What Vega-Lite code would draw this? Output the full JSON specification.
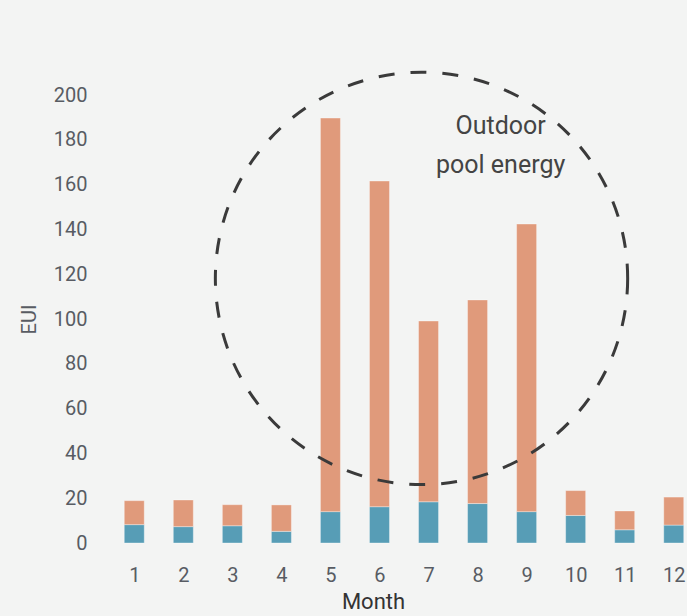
{
  "$schema": "https://vega.github.io/schema/vega-lite/v6.json",
  "width": 564,
  "height": 448,
  "autosize": "none",
  "padding": {"left": 122, "top": 95, "right": 1, "bottom": 73},
  "background": "#f3f4f3",
  "config": {
    "view": {"stroke": null},
    "font": "Roboto",
    "axis": {"grid": false, "domain": false, "ticks": false, "tickSize": 0, "labelFont": "Roboto", "titleFont": "Roboto", "titleFontWeight": "normal"}
  },
  "datasets": {
    "energy": [
      {"month": 1, "series": "Base", "eui": 8.2},
      {"month": 1, "series": "Pool", "eui": 10.7},
      {"month": 2, "series": "Base", "eui": 7.3},
      {"month": 2, "series": "Pool", "eui": 11.9},
      {"month": 3, "series": "Base", "eui": 7.7},
      {"month": 3, "series": "Pool", "eui": 9.4},
      {"month": 4, "series": "Base", "eui": 5.2},
      {"month": 4, "series": "Pool", "eui": 11.8},
      {"month": 5, "series": "Base", "eui": 14.0},
      {"month": 5, "series": "Pool", "eui": 175.7},
      {"month": 6, "series": "Base", "eui": 16.2},
      {"month": 6, "series": "Pool", "eui": 145.4},
      {"month": 7, "series": "Base", "eui": 18.4},
      {"month": 7, "series": "Pool", "eui": 80.7},
      {"month": 8, "series": "Base", "eui": 17.6},
      {"month": 8, "series": "Pool", "eui": 90.9},
      {"month": 9, "series": "Base", "eui": 14.0},
      {"month": 9, "series": "Pool", "eui": 128.4},
      {"month": 10, "series": "Base", "eui": 12.3},
      {"month": 10, "series": "Pool", "eui": 11.1},
      {"month": 11, "series": "Base", "eui": 5.9},
      {"month": 11, "series": "Pool", "eui": 8.4},
      {"month": 12, "series": "Base", "eui": 8.0},
      {"month": 12, "series": "Pool", "eui": 12.5}
    ],
    "circle": [{"cx": 6.857, "cy": 118.1}],
    "note": [
      {"tx": 8.47, "ty": 182.5, "label": "Outdoor"},
      {"tx": 8.47, "ty": 165.2, "label": "pool energy"}
    ]
  },
  "layer": [
    {
      "data": {"name": "energy"},
      "mark": {"type": "bar", "size": 20, "stroke": "white", "strokeWidth": 1, "strokeOpacity": 0.35},
      "encoding": {
        "x": {
          "field": "month", "type": "quantitative",
          "scale": {"domain": [0.75, 12.25], "nice": false, "zero": false, "padding": 0},
          "axis": {"values": [1,2,3,4,5,6,7,8,9,10,11,12], "format": "d", "labelFontSize": 20, "labelColor": "#585c63", "labelPadding": 22, "title": "Month", "titleFontSize": 22, "titleColor": "#333333", "titlePadding": 6, "titleX": 251}
        },
        "y": {
          "field": "eui", "type": "quantitative", "stack": "zero",
          "scale": {"domain": [0, 200], "nice": false},
          "axis": {"values": [0,20,40,60,80,100,120,140,160,180,200], "labelFontSize": 20, "labelColor": "#585c63", "labelPadding": 35, "title": "EUI", "titleFontSize": 20, "titleColor": "#585c63", "titlePadding": 14}
        },
        "color": {
          "field": "series", "type": "nominal",
          "scale": {"domain": ["Base", "Pool"], "range": ["#579db6", "#e09a7b"]},
          "legend": null
        },
        "order": {"field": "series", "sort": "ascending"}
      }
    },
    {
      "data": {"name": "circle"},
      "mark": {"type": "point", "shape": "circle", "filled": false, "size": 170000, "stroke": "#3a3a3a", "strokeWidth": 3, "strokeDash": [16, 16], "opacity": 1},
      "encoding": {
        "x": {"field": "cx", "type": "quantitative"},
        "y": {"field": "cy", "type": "quantitative"}
      }
    },
    {
      "data": {"name": "note"},
      "mark": {"type": "text", "align": "center", "baseline": "alphabetic", "fontSize": 25, "font": "Roboto", "color": "#444444"},
      "encoding": {
        "x": {"field": "tx", "type": "quantitative"},
        "y": {"field": "ty", "type": "quantitative"},
        "text": {"field": "label"}
      }
    }
  ]
}
